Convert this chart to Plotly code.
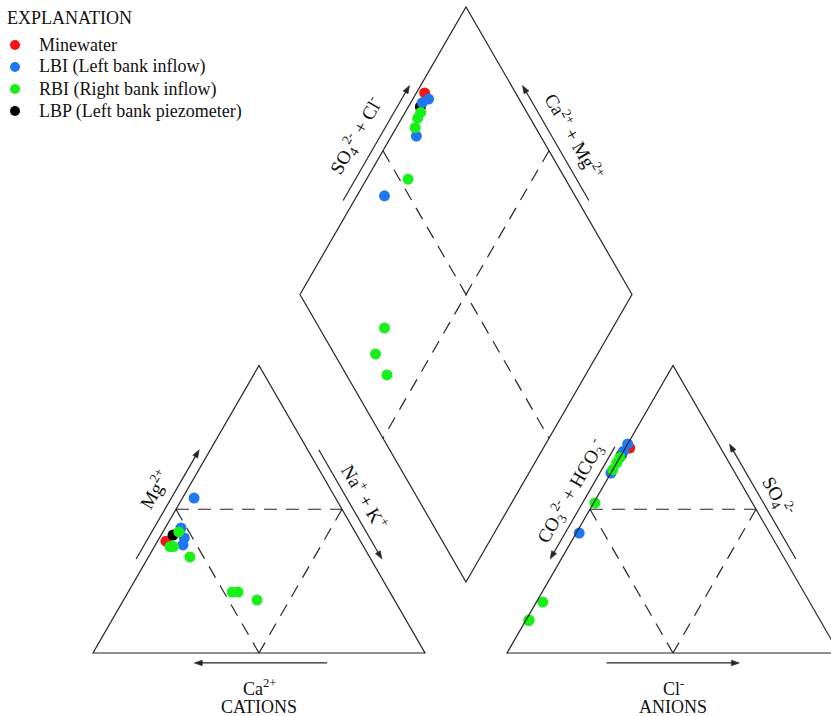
import numpy as np
import plotly.graph_objects as go

# ---- sample compositions (% of meq/L) ----
# cations: Mg, Na+K (Ca is the remainder); anions: SO4, Cl (CO3+HCO3 is the remainder)
mine_mg = [38.9]
mine_nak = [2.5]
mine_so4 = [71.3]
mine_cl = [1.3]

lbi_mg = [53.9, 43.5, 40.0, 37.6]
lbi_nak = [3.5, 4.75, 7.5, 8.3]
lbi_so4 = [70.2, 72.7, 62.6, 41.7]
lbi_cl = [0.0, 0.0, 0.0, 0.9]

rbi_mg = [42.1, 37.0, 37.0, 33.4, 21.2, 21.2, 18.4]
rbi_nak = [4.8, 5.7, 4.7, 12.5, 31.3, 33.1, 40.2]
rbi_so4 = [66.1, 63.7, 68.0, 52.2, 17.7, 11.5, 11.3]
rbi_cl = [0.0, 0.0, 0.0, 0.4, 1.9, 0.9, 0.9]

lbp_mg = [41.0]
lbp_nak = [3.6]
lbp_so4 = [68.9]
lbp_cl = [0.0]

group_names = ["Minewater", "LBI (Left bank inflow)", "RBI (Right bank inflow)",
               "LBP (Left bank piezometer)"]
group_colors = ["#f51414", "#1f78f0", "#19f019", "#000000"]
group_data = [
    (mine_mg, mine_nak, mine_so4, mine_cl),
    (lbi_mg, lbi_nak, lbi_so4, lbi_cl),
    (rbi_mg, rbi_nak, rbi_so4, rbi_cl),
    (lbp_mg, lbp_nak, lbp_so4, lbp_cl),
]
draw_order = [0, 3, 1, 2]   # green drawn last, on top

# ---- Piper geometry (triangle side = 100 units) ----
H = np.sqrt(3) / 2
GAP = 24.7
OFF = 100 + GAP
BOT = np.array([100 + GAP / 2, GAP * H])


def cation_xy(mg, nak):
    mg, nak = np.asarray(mg, float), np.asarray(nak, float)
    return nak + mg / 2, mg * H


def anion_xy(so4, cl):
    so4, cl = np.asarray(so4, float), np.asarray(cl, float)
    return OFF + cl + so4 / 2, so4 * H


def diamond_xy(mg, nak, so4, cl):
    camg = 100 - np.asarray(nak, float)
    sc = np.asarray(so4, float) + np.asarray(cl, float)
    return BOT[0] + 0.5 * (sc - camg), BOT[1] + H * (sc + camg)


# corners
cA, cB, cC = np.array([0, 0]), np.array([100, 0]), np.array([50, 100 * H])
aA, aB, aC = np.array([OFF, 0]), np.array([OFF + 100, 0]), np.array([OFF + 50, 100 * H])
dB = BOT
dL = BOT + 100 * np.array([-0.5, H])
dR = BOT + 100 * np.array([0.5, H])
dT = BOT + 100 * np.array([0, 2 * H])

LINE = "#262626"
FONT = "Liberation Serif"
fig = go.Figure()

shapes = []


def poly(pts, dash="solid", fill=None, width=1.2):
    path = "M " + " L ".join(f"{p[0]:.3f},{p[1]:.3f}" for p in pts) + " Z"
    d = dict(type="path", path=path, xref="x", yref="y",
             line=dict(color=LINE, width=width, dash=dash))
    if fill:
        d["fillcolor"] = fill
    shapes.append(d)


def seg(p, q, dash="solid"):
    shapes.append(dict(type="line", x0=p[0], y0=p[1], x1=q[0], y1=q[1], xref="x", yref="y",
                       line=dict(color=LINE, width=1.2, dash=dash)))


poly([cA, cB, cC])
poly([aA, aB, aC])
poly([dB, dR, dT, dL])

DASH = "13px,9px"
for P, Q, R in [(cA, cB, cC), (aA, aB, aC)]:
    m1, m2, m3 = (P + R) / 2, (Q + R) / 2, (P + Q) / 2
    seg(m1, m2, DASH)
    seg(m1, m3, DASH)
    seg(m2, m3, DASH)
seg((dL + dT) / 2, (dB + dR) / 2, DASH)
seg((dR + dT) / 2, (dB + dL) / 2, DASH)

annotations = []


def along(P, Q, t, d, n):
    return P + t * (Q - P) + d * np.asarray(n)


def side_arrow(P, Q, t_tail, t_tip, d, n, head_len=2.4, head_w=0.85):
    tail = along(P, Q, t_tail, d, n)
    tip = along(P, Q, t_tip, d, n)
    u = (tip - tail) / np.linalg.norm(tip - tail)
    v = np.array([-u[1], u[0]])
    base = tip - head_len * u
    seg(tail, base + 0.3 * u)
    poly([tip, base + head_w * v, base - head_w * v], fill=LINE, width=0.6)


def label(text, pos, angle=0, size=19):
    annotations.append(dict(x=pos[0], y=pos[1], xref="x", yref="y", text=text, showarrow=False,
                            textangle=angle, font=dict(family=FONT, size=size, color="#111111")))


nL = (-H, 0.5)
nR = (H, 0.5)
nD = (0, -1)
D = 2.9

# cation triangle
side_arrow(cA, cC, 0.31, 0.69, D, nL)               # Mg up
side_arrow(cC, cB, 0.31, 0.69, D, nR)               # Na+K down
side_arrow(cB, cA, 0.295, 0.695, 3.0, nD)           # Ca left
label("Mg<sup>2+</sup>", along(cA, cC, 0.52, 9.0, nL), -60)
label("Na<sup>+</sup> + K<sup>+</sup>", along(cC, cB, 0.5, 8.0, nR), 60)
label("Ca<sup>2+</sup>", along(cA, cB, 0.5, 10.5, nD), 0, 18)
label("CATIONS", along(cA, cB, 0.5, 16.2, nD), 0, 18)

# anion triangle
side_arrow(aC, aA, 0.30, 0.69, D, nL)               # CO3+HCO3 down
side_arrow(aB, aC, 0.31, 0.71, D, nR)               # SO4 up
side_arrow(aA, aB, 0.30, 0.70, 3.0, nD)             # Cl right
label("CO<sub>3</sub><sup>2-</sup> + HCO<sub>3</sub><sup>-</sup>",
      along(aA, aC, 0.52, 7.6, nL), -60)
label("SO<sub>4</sub><sup>2-</sup>", along(aB, aC, 0.5, 7.4, nR), 60)
label("Cl<sup>-</sup>", along(aA, aB, 0.5, 10.5, nD), 0, 18)
label("ANIONS", along(aA, aB, 0.5, 16.2, nD), 0, 18)

# diamond
side_arrow(dL, dT, 0.31, 0.71, D, nL)               # SO4+Cl up
side_arrow(dR, dT, 0.31, 0.71, D, nR)               # Ca+Mg up
label("SO<sub>4</sub><sup>2-</sup> + Cl<sup>-</sup>", along(dL, dT, 0.5, 9.4, nL), -60)
label("Ca<sup>2+</sup> + Mg<sup>2+</sup>", along(dR, dT, 0.5, 9.0, nR), 60)

# ---- data points ----
for gi in draw_order:
    mg, nak, so4, cl = group_data[gi]
    x1, y1 = cation_xy(mg, nak)
    x2, y2 = anion_xy(so4, cl)
    x3, y3 = diamond_xy(mg, nak, so4, cl)
    fig.add_trace(go.Scatter(
        x=np.concatenate([x1, x2, x3]), y=np.concatenate([y1, y2, y3]),
        mode="markers", name=group_names[gi], showlegend=False,
        marker=dict(size=11, color=group_colors[gi], line=dict(width=0)),
    ))

# ---- explanation block (top-left, in pixel positions of the page) ----
W, HT = 831, 716
annotations.append(dict(x=5 / W, y=1 - 18 / HT, xref="paper", yref="paper", xanchor="left",
                        yanchor="middle", text="EXPLANATION", showarrow=False,
                        font=dict(family=FONT, size=18, color="#111111")))
for i, (name, col) in enumerate(zip(group_names, group_colors)):
    yc = 45 + 22 * i
    shapes.append(dict(type="circle", xref="paper", yref="paper", xsizemode="pixel",
                       ysizemode="pixel", xanchor=15 / W, yanchor=1 - yc / HT,
                       x0=-5, x1=5, y0=-5, y1=5, fillcolor=col, line=dict(width=0)))
    annotations.append(dict(x=37 / W, y=1 - yc / HT, xref="paper", yref="paper",
                            xanchor="left", yanchor="middle", text=name, showarrow=False,
                            font=dict(family=FONT, size=18, color="#111111")))

S = 3.32  # pixels per unit
fig.update_layout(
    width=W, height=HT,
    margin=dict(l=0, r=0, t=0, b=0),
    paper_bgcolor="white", plot_bgcolor="white",
    xaxis=dict(visible=False, range=[-93 / S, (W - 93) / S], fixedrange=True),
    yaxis=dict(visible=False, range=[-(HT - 653) / S, 653 / S], fixedrange=True),
    shapes=shapes, annotations=annotations,
    showlegend=False,
)

fig.write_html("out.html")
